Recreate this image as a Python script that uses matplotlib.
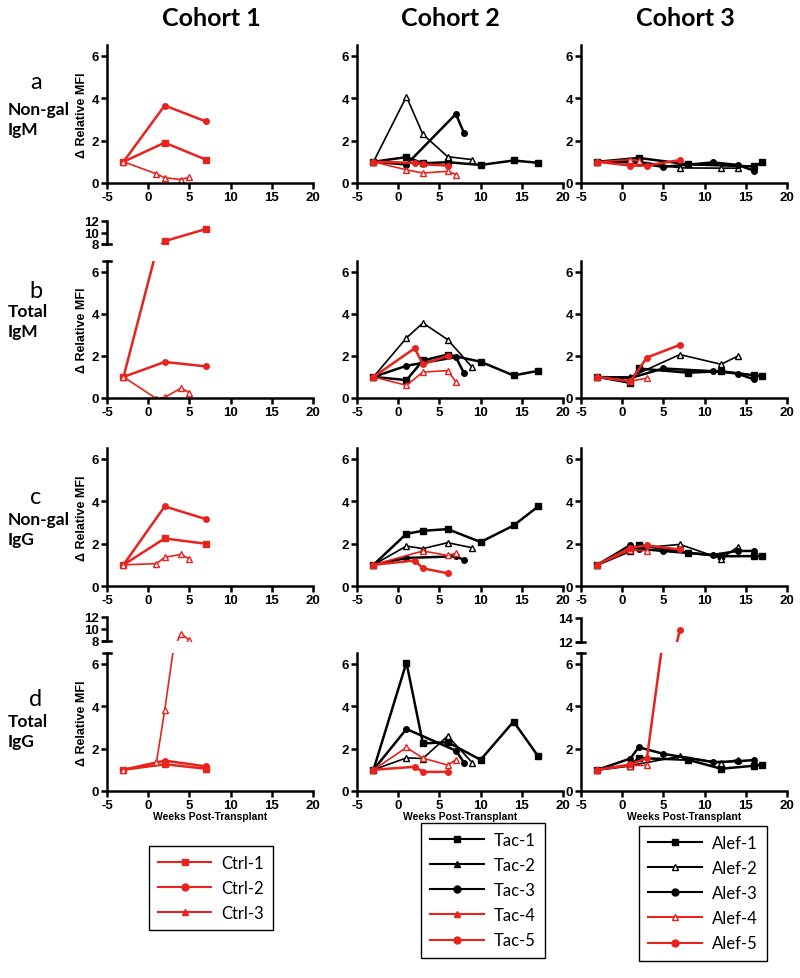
import matplotlib
matplotlib.use('Agg')
import matplotlib.pyplot as plt
from matplotlib.lines import Line2D

plt.rcParams['axes.unicode_minus'] = False

W, H = 800, 979
RED = '#e8231d'

# ---- data: weeks post-transplant (x) and relative MFI (y) per animal ----
# row a: non-gal IgM
a_c1 = {'Ctrl-1': ([-3, 2, 7], [1.0, 1.9, 1.1]),
        'Ctrl-2': ([-3, 2, 7], [1.0, 3.65, 2.9]),
        'Ctrl-3': ([-3, 1, 2, 4, 5], [1.0, 0.43, 0.25, 0.16, 0.28])}
a_c2 = {'Tac-1': ([-3, 1, 3, 6, 10, 14, 17], [1.0, 1.22, 0.93, 0.98, 0.85, 1.06, 0.95]),
        'Tac-2': ([-3, 1, 3, 6, 9], [1.0, 4.07, 2.29, 1.24, 1.1]),
        'Tac-3': ([-3, 1, 7, 8], [1.0, 0.87, 3.25, 2.34]),
        'Tac-4': ([-3, 1, 3, 6, 7], [1.0, 0.62, 0.47, 0.55, 0.4]),
        'Tac-5': ([-3, 2, 3, 6], [1.0, 0.95, 0.88, 0.82])}
a_c3 = {'Alef-1': ([-3, 2, 8, 16, 17], [1.0, 1.18, 0.88, 0.78, 0.97]),
        'Alef-2': ([-3, 1, 7, 12, 14], [1.0, 1.08, 0.71, 0.7, 0.7]),
        'Alef-3': ([-3, 1, 2, 5, 11, 14, 16], [1.0, 0.97, 0.93, 0.76, 0.97, 0.85, 0.58]),
        'Alef-4': ([-3, 1, 2], [1.0, 1.1, 1.05]),
        'Alef-5': ([-3, 1, 3, 7], [1.0, 0.82, 0.82, 1.08])}

# row b: total IgM
b_c1 = {'Ctrl-1': ([-3, 2, 7], [1.0, 8.5, 10.6]),
        'Ctrl-2': ([-3, 2, 7], [1.0, 1.71, 1.5]),
        'Ctrl-3': ([-3, 1, 2, 4, 5], [1.0, -0.03, 0.03, 0.47, 0.25])}
b_c2 = {'Tac-1': ([-3, 1, 3, 6, 10, 14, 17], [1.0, 0.85, 1.78, 2.06, 1.72, 1.07, 1.29]),
        'Tac-2': ([-3, 1, 3, 6, 9], [1.0, 2.85, 3.56, 2.77, 1.45]),
        'Tac-3': ([-3, 1, 7, 8], [1.0, 1.53, 1.94, 1.17]),
        'Tac-4': ([-3, 1, 3, 6, 7], [1.0, 0.6, 1.23, 1.3, 0.76]),
        'Tac-5': ([-3, 2, 3, 6], [1.0, 2.36, 1.6, 2.0])}
b_c3 = {'Alef-1': ([-3, 1, 2, 8, 12, 16, 17], [1.0, 0.72, 1.4, 1.2, 1.27, 1.08, 1.04]),
        'Alef-2': ([-3, 1, 7, 12, 14], [1.0, 1.0, 2.06, 1.6, 1.98]),
        'Alef-3': ([-3, 1, 5, 11, 14, 16], [1.0, 0.95, 1.4, 1.27, 1.16, 0.88]),
        'Alef-4': ([-3, 1, 3], [1.0, 0.8, 0.94]),
        'Alef-5': ([-3, 1, 3, 7], [1.0, 0.79, 1.92, 2.52])}

# row c: non-gal IgG
c_c1 = {'Ctrl-1': ([-3, 2, 7], [1.0, 2.24, 1.99]),
        'Ctrl-2': ([-3, 2, 7], [1.0, 3.75, 3.15]),
        'Ctrl-3': ([-3, 1, 2, 4, 5], [1.0, 1.05, 1.35, 1.49, 1.27])}
c_c2 = {'Tac-1': ([-3, 1, 3, 6, 10, 14, 17], [1.0, 2.46, 2.6, 2.68, 2.07, 2.85, 3.75]),
        'Tac-2': ([-3, 1, 3, 6, 9], [1.0, 1.88, 1.76, 2.04, 1.8]),
        'Tac-3': ([-3, 1, 7, 8], [1.0, 1.32, 1.4, 1.22]),
        'Tac-4': ([-3, 3, 6, 7], [1.0, 1.65, 1.44, 1.54]),
        'Tac-5': ([-3, 2, 3, 6], [1.0, 1.2, 0.83, 0.6])}
c_c3 = {'Alef-1': ([-3, 1, 2, 8, 12, 16, 17], [1.0, 1.65, 1.93, 1.57, 1.4, 1.41, 1.41]),
        'Alef-2': ([-3, 1, 7, 12, 14], [1.0, 1.75, 1.96, 1.29, 1.83]),
        'Alef-3': ([-3, 1, 2, 5, 11, 14, 16], [1.0, 1.93, 1.75, 1.65, 1.46, 1.65, 1.65]),
        'Alef-4': ([-3, 1, 3], [1.0, 1.7, 1.66]),
        'Alef-5': ([-3, 1, 3, 7], [1.0, 1.8, 1.91, 1.72])}

# row d: total IgG
d_c1 = {'Ctrl-1': ([-3, 2, 7], [1.0, 1.26, 1.05]),
        'Ctrl-2': ([-3, 2, 7], [1.0, 1.43, 1.16]),
        'Ctrl-3': ([-3, 1, 2, 4, 5], [1.0, 1.35, 3.8, 9.25, 8.1])}
d_c2 = {'Tac-1': ([-3, 1, 3, 6, 10, 14, 17], [1.0, 6.05, 2.24, 2.3, 1.47, 3.27, 1.63]),
        'Tac-2': ([-3, 1, 3, 6, 9], [1.0, 1.56, 1.53, 2.59, 1.33]),
        'Tac-3': ([-3, 1, 7, 8], [1.0, 2.92, 1.9, 1.34]),
        'Tac-4': ([-3, 1, 3, 6, 7], [1.0, 2.05, 1.55, 1.22, 1.47]),
        'Tac-5': ([-3, 2, 3, 6], [1.0, 1.14, 0.9, 0.9])}
d_c3 = {'Alef-1': ([-3, 1, 2, 8, 12, 16, 17], [1.0, 1.2, 1.55, 1.47, 1.05, 1.19, 1.24]),
        'Alef-2': ([-3, 1, 7, 12, 14], [1.0, 1.2, 1.63, 1.32, 1.47]),
        'Alef-3': ([-3, 1, 2, 5, 11, 14, 16], [1.0, 1.53, 2.06, 1.75, 1.36, 1.4, 1.46]),
        'Alef-4': ([-3, 1, 3], [1.0, 1.2, 1.21]),
        'Alef-5': ([-3, 1, 3, 7], [1.0, 1.25, 1.55, 13.0])}

cohort_titles = ['Cohort 1', 'Cohort 2', 'Cohort 3']
row_letters = ['a', 'b', 'c', 'd']
row_names = ['Non-gal\nIgM', 'Total\nIgM', 'Non-gal\nIgG', 'Total\nIgG']
x_ticks = [-5, 0, 5, 10, 15, 20]
y_ticks = [0, 2, 4, 6]

# ---- styles ----
def st(color, marker, open_=False):
    return dict(color=color, marker=marker, lw=1.2 if open_ else 1.8,
                ms=4.5 if open_ else 4, mfc='white' if open_ else color)

styles = {
    'Ctrl-1': st(RED, 's'), 'Ctrl-2': st(RED, 'o'), 'Ctrl-3': st(RED, '^', True),
    'Tac-1': st('k', 's'), 'Tac-2': st('k', '^', True), 'Tac-3': st('k', 'o'),
    'Tac-4': st(RED, '^', True), 'Tac-5': st(RED, 'o'),
    'Alef-1': st('k', 's'), 'Alef-2': st('k', '^', True), 'Alef-3': st('k', 'o'),
    'Alef-4': st(RED, '^', True), 'Alef-5': st(RED, 'o'),
}

AX_FONT = 'Liberation Sans'
TXT_FONT = 'Lato'

fig = plt.figure(figsize=(W / 100, H / 100), dpi=100)

col_px = [(107, 313), (357, 563), (581, 787)]
row_px = [(46, 184), (262, 399), (449, 587), (654, 792)]


def px_axes(x0, x1, top, bot):
    return fig.add_axes([x0 / W, 1 - bot / H, (x1 - x0) / W, (bot - top) / H])


def draw_series(ax, series):
    for name, (xs, ys) in series.items():
        s = styles[name]
        ax.plot(xs, ys, color=s['color'], marker=s['marker'], lw=s['lw'],
                ms=s['ms'], mfc=s['mfc'], mec=s['color'], mew=1.0)


def bold_ticks(ax):
    for lab in ax.get_xticklabels() + ax.get_yticklabels():
        lab.set_fontweight('bold')
        lab.set_fontfamily(AX_FONT)


def style_axis(ax):
    ax.set_xlim(-5, 20)
    ax.set_ylim(0, 6.5)
    ax.set_xticks(x_ticks)
    ax.set_yticks(y_ticks)
    ax.spines['top'].set_visible(False)
    ax.spines['right'].set_visible(False)
    for s in ['left', 'bottom']:
        ax.spines[s].set_linewidth(1.8)
    ax.tick_params(width=1.8, length=4, labelsize=9.5, pad=1.5)
    bold_ticks(ax)


def add_upper(col, top, bot, ylim, ticks, series):
    x0, x1 = col_px[col]
    ax = px_axes(x0, x1, top, bot)
    ax.set_xlim(-5, 20)
    ax.set_ylim(*ylim)
    for s in ['top', 'right', 'bottom']:
        ax.spines[s].set_visible(False)
    ax.spines['left'].set_linewidth(1.8)
    ax.set_xticks([])
    ax.set_yticks(ticks)
    ax.tick_params(width=1.8, length=4, labelsize=9.5, pad=1.5)
    bold_ticks(ax)
    ax.patch.set_alpha(0)
    draw_series(ax, series)
    # break cap at bottom of upper segment
    ax.plot([-0.02, 0.02], [0, 0], transform=ax.transAxes, color='k', lw=1.8, clip_on=False)
    return ax


panels = [[a_c1, a_c2, a_c3], [b_c1, b_c2, b_c3], [c_c1, c_c2, c_c3], [d_c1, d_c2, d_c3]]

for r, row in enumerate(panels):
    top, bot = row_px[r]
    for c, series in enumerate(row):
        x0, x1 = col_px[c]
        ax = px_axes(x0, x1, top, bot)
        draw_series(ax, series)
        style_axis(ax)
        if c == 0:
            ax.set_ylabel('\u0394 Relative MFI', fontsize=9, fontweight='bold',
                          fontfamily=AX_FONT)
            ax.yaxis.set_label_coords(-0.09, 0.5)
        if r == 3:
            ax.set_xlabel('Weeks Post-Transplant', fontsize=7.5, fontweight='bold',
                          fontfamily=AX_FONT, labelpad=0)
        broken = (r == 1 and c == 0) or (r == 3 and c in (0, 2))
        if broken:
            ax.plot([-0.02, 0.02], [1, 1], transform=ax.transAxes, color='k',
                    lw=1.8, clip_on=False)

# upper segments of the broken axes
add_upper(0, 222, 245, (8, 12), [8, 10, 12], b_c1)
add_upper(0, 618, 642, (8, 12), [8, 10, 12], d_c1)
add_upper(2, 619, 643, (12, 14), [12, 14], d_c3)

# titles and row labels
for title, cx in zip(cohort_titles, [211, 450, 685]):
    fig.text(cx / W, 1 - 18 / H, title, ha='center', va='center',
             fontsize=18, fontweight='bold', fontfamily=TXT_FONT)

for letter, name, ly, ny in zip(row_letters, row_names, [83, 292, 498, 700], [120, 322, 530, 732]):
    fig.text(36 / W, 1 - ly / H, letter, ha='center', va='center',
             fontsize=17, fontfamily=TXT_FONT)
    fig.text(8 / W, 1 - ny / H, name, ha='left', va='center', linespacing=1.3,
             fontsize=12.5, fontweight='bold', fontfamily=TXT_FONT)

# legends
legend_groups = [
    (['Ctrl-1', 'Ctrl-2', 'Ctrl-3'], 211, 889, True),
    (['Tac-1', 'Tac-2', 'Tac-3', 'Tac-4', 'Tac-5'], 483, 891, True),
    (['Alef-1', 'Alef-2', 'Alef-3', 'Alef-4', 'Alef-5'], 703, 894, False),
]
for names, cx, cy, filled_tri in legend_groups:
    handles = []
    for n in names:
        s = styles[n]
        mfc = s['color'] if filled_tri else s['mfc']
        handles.append(Line2D([], [], color=s['color'], marker=s['marker'], lw=1.5,
                              ms=5, mfc=mfc, mec=s['color']))
    leg = fig.legend(handles, names, loc='center', bbox_to_anchor=(cx / W, 1 - cy / H),
                     frameon=True, fancybox=False, edgecolor='k', framealpha=1,
                     handlelength=3.2, labelspacing=0.55, borderpad=0.55,
                     handletextpad=0.6, prop={'family': TXT_FONT, 'size': 12})
    leg.get_frame().set_linewidth(1.0)

fig.savefig('out.png', dpi=100)
